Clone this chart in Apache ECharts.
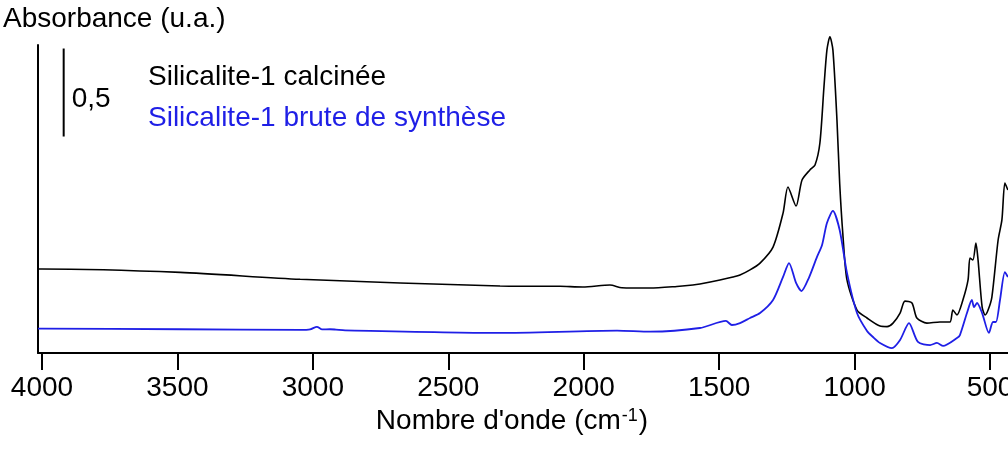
<!DOCTYPE html>
<html>
<head>
<meta charset="utf-8">
<script src="https://cdn.jsdelivr.net/npm/echarts@6/dist/echarts.min.js"></script>
<style>
  html, body { margin: 0; padding: 0; background: #fff; }
  #chart { width: 1008px; height: 450px; }
</style>
</head>
<body>
<div id="chart"></div>
<script>
// FTIR spectra of Silicalite-1 (absorbance vs wavenumber, cm-1)
const tickValues = [4000, 3500, 3000, 2500, 2000, 1500, 1000, 500];

// Calcined sample
const calcWn = [4015, 4000, 3490, 3047, 2309, 2087, 2003, 1903, 1859, 1755, 1656, 1597, 1571, 1497, 1449, 1423, 1386, 1349, 1301, 1264, 1246, 1216, 1194, 1165, 1146, 1128, 1113, 1102, 1091, 1080, 1065, 1055, 1043, 1028, 991, 954, 906, 880, 858, 832, 814, 788, 770, 733, 685, 648, 637, 622, 600, 581, 574, 563, 552, 544, 529, 518, 507, 493, 470, 456, 445, 434];
const calcAbs = [0.477, 0.477, 0.458, 0.419, 0.381, 0.379, 0.375, 0.386, 0.371, 0.369, 0.378, 0.386, 0.392, 0.415, 0.432, 0.443, 0.472, 0.511, 0.602, 0.795, 0.943, 0.835, 0.983, 1.040, 1.068, 1.193, 1.511, 1.722, 1.797, 1.722, 1.324, 0.966, 0.670, 0.415, 0.244, 0.199, 0.153, 0.150, 0.170, 0.227, 0.295, 0.284, 0.199, 0.170, 0.176, 0.176, 0.244, 0.216, 0.301, 0.415, 0.540, 0.528, 0.625, 0.528, 0.261, 0.216, 0.244, 0.318, 0.642, 0.756, 0.966, 0.926];

// As-synthesised sample
const bruteWn = [4015, 4000, 3490, 3047, 3010, 2985, 2966, 2937, 2915, 2881, 2309, 1877, 1755, 1571, 1475, 1453, 1423, 1386, 1349, 1301, 1264, 1242, 1216, 1196, 1169, 1139, 1120, 1102, 1080, 1055, 1028, 991, 954, 932, 906, 862, 832, 799, 766, 721, 696, 673, 622, 611, 585, 567, 559, 548, 529, 504, 489, 478, 463, 445, 434];
const bruteAbs = [0.138, 0.138, 0.135, 0.131, 0.134, 0.149, 0.134, 0.135, 0.133, 0.129, 0.114, 0.127, 0.121, 0.142, 0.182, 0.159, 0.170, 0.199, 0.227, 0.301, 0.432, 0.511, 0.398, 0.352, 0.426, 0.545, 0.614, 0.739, 0.807, 0.699, 0.455, 0.227, 0.125, 0.091, 0.057, 0.028, 0.074, 0.170, 0.063, 0.045, 0.057, 0.040, 0.085, 0.102, 0.227, 0.301, 0.261, 0.284, 0.227, 0.114, 0.176, 0.176, 0.301, 0.460, 0.432];

// Scale bar: 0.5 absorbance units
const scaleBarWn = 3920;
const scaleBarFrom = 1.23;
const scaleBarLength = 0.5;
const scaleBarText = '0,5';

const seriesNames = ['Silicalite-1 calcinée', 'Silicalite-1 brute de synthèse'];
const black = '#000000';
const blue = '#1f1fe6';
const fontFamily = '"Liberation Sans", Arial, Helvetica, sans-serif';

const zip = (xs, ys) => xs.map((x, i) => [x, ys[i]]);

const chart = echarts.init(document.getElementById('chart'), null, { renderer: 'canvas' });

chart.setOption({
  animation: false,
  backgroundColor: '#ffffff',
  textStyle: { fontFamily: fontFamily },
  title: {
    text: 'Absorbance (u.a.)',
    left: 3,
    top: 5,
    padding: 0,
    textStyle: { fontSize: 28, fontWeight: 'normal', color: black, fontFamily: fontFamily }
  },
  legend: {
    orient: 'vertical',
    left: 143,
    top: 63,
    padding: 0,
    icon: 'none',
    itemWidth: 0,
    itemHeight: 28,
    itemGap: 13,
    selectedMode: false,
    textStyle: { fontSize: 28, fontFamily: fontFamily },
    data: [
      { name: seriesNames[0], textStyle: { color: black } },
      { name: seriesNames[1], textStyle: { color: blue } }
    ]
  },
  grid: { left: 38, right: 0, top: 45, bottom: 97, containLabel: false, outerBoundsMode: 'none' },
  xAxis: {
    type: 'value',
    inverse: true,
    min: 433.5,
    max: 4014.8,
    name: 'Nombre d\'onde (cm{sup|-1})',
    nameLocation: 'middle',
    nameGap: 44,
    nameTextStyle: {
      fontSize: 28,
      color: black,
      fontFamily: fontFamily,
      padding: [0, 22, 0, 0],
      rich: {
        sup: { fontSize: 18, verticalAlign: 'top', padding: [0, 1, 0, 1], color: black, fontFamily: fontFamily }
      }
    },
    axisLine: { show: true, onZero: false, lineStyle: { color: black, width: 2 } },
    axisTick: { show: true, customValues: tickValues, length: 17, lineStyle: { color: black, width: 2 } },
    axisLabel: {
      show: true,
      customValues: tickValues,
      margin: 21,
      fontSize: 28,
      color: black,
      fontFamily: fontFamily,
      formatter: (v) => String(v)
    },
    splitLine: { show: false }
  },
  yAxis: {
    type: 'value',
    min: 0,
    max: 1.75,
    axisLine: { show: true, lineStyle: { color: black, width: 2 } },
    axisTick: { show: false },
    axisLabel: { show: false },
    splitLine: { show: false }
  },
  series: [
    {
      name: seriesNames[0],
      type: 'line',
      clip: false,
      smooth: 0.25,
      showSymbol: false,
      symbol: 'none',
      lineStyle: { color: black, width: 1.6 },
      itemStyle: { color: black },
      data: zip(calcWn, calcAbs)
    },
    {
      name: seriesNames[1],
      type: 'line',
      clip: false,
      smooth: 0.25,
      showSymbol: false,
      symbol: 'none',
      lineStyle: { color: blue, width: 1.8 },
      itemStyle: { color: blue },
      data: zip(bruteWn, bruteAbs)
    },
    {
      name: 'scale',
      type: 'line',
      clip: false,
      symbol: 'none',
      silent: true,
      lineStyle: { color: black, width: 2 },
      data: [[scaleBarWn, scaleBarFrom], [scaleBarWn, scaleBarFrom + scaleBarLength]]
    },
    {
      name: 'scaleLabel',
      type: 'scatter',
      clip: false,
      silent: true,
      symbolSize: 0,
      itemStyle: { opacity: 1, color: black },
      label: {
        show: true,
        position: 'right',
        distance: 8,
        formatter: scaleBarText,
        fontSize: 28,
        color: black,
        opacity: 1,
        fontFamily: fontFamily
      },
      data: [[scaleBarWn, scaleBarFrom + scaleBarLength * 0.42]]
    }
  ]
});
</script>
</body>
</html>
